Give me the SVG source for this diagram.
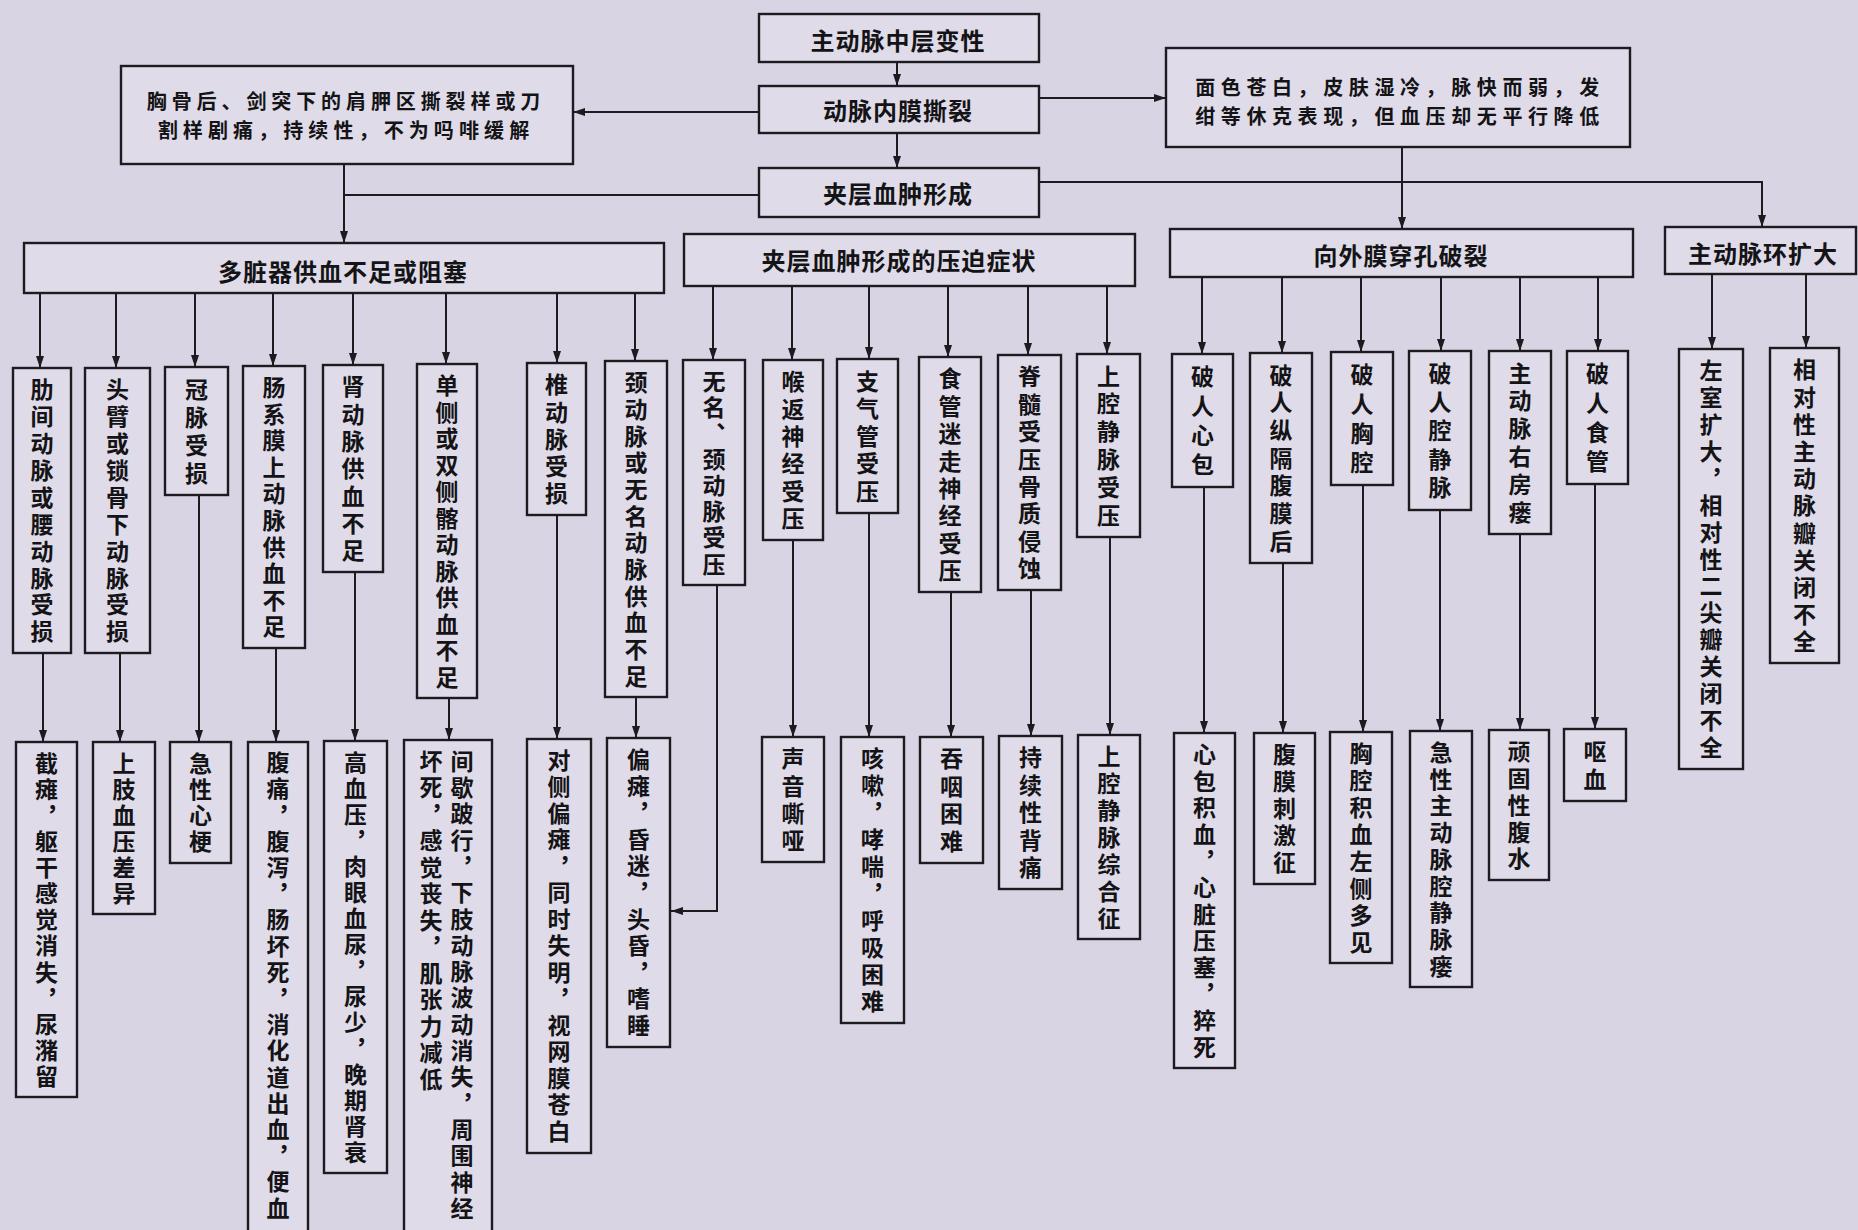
<svg xmlns="http://www.w3.org/2000/svg" width="1858" height="1230" viewBox="0 0 1858 1230">
<style>
.bx{fill:#dfdbe8;stroke:#1c1b20;stroke-width:2.4}
.t{font-family:"Noto Sans CJK SC","Noto Sans CJK TC",sans-serif;font-weight:700;fill:#141316}
.h{font-size:24px;text-anchor:middle;dominant-baseline:central;letter-spacing:1px}
.s{font-size:20px;text-anchor:middle;dominant-baseline:central}
.v{font-size:23px;writing-mode:vertical-rl;text-anchor:start}
.c{fill:none;stroke:#1c1b20;stroke-width:2}
.a{marker-end:url(#ah)}
</style>
<defs>
<marker id="ah" viewBox="0 0 12 10" refX="12" refY="5" markerWidth="12" markerHeight="10" markerUnits="userSpaceOnUse" orient="auto">
<path d="M0,1 L12,5 L0,9 z" fill="#1c1b20"/>
</marker>
</defs>
<rect x="0" y="0" width="1858" height="1230" fill="#d8d4e3"/>

<g id="connectors">
<path class="c a" d="M897,62 V86"/>
<path class="c a" d="M897,133 V168"/>
<path class="c a" d="M759,112 H573"/>
<path class="c a" d="M1039,98 H1166"/>
<path class="c" d="M759,195 H344"/>
<path class="c a" d="M344,164 V243"/>
<path class="c a" d="M1039,182 H1762 V227"/>
<path class="c a" d="M1402,147 V229"/>
<path class="c a" d="M40,293 V368"/>
<path class="c a" d="M116,293 V368"/>
<path class="c a" d="M195,293 V367"/>
<path class="c a" d="M273,293 V366"/>
<path class="c a" d="M353,293 V365"/>
<path class="c a" d="M446,293 V364"/>
<path class="c a" d="M557,293 V363"/>
<path class="c a" d="M635,293 V361"/>
<path class="c a" d="M713,286 V360"/>
<path class="c a" d="M792,286 V360"/>
<path class="c a" d="M869,286 V359"/>
<path class="c a" d="M948,286 V357"/>
<path class="c a" d="M1028,286 V355"/>
<path class="c a" d="M1107,286 V354"/>
<path class="c a" d="M1202,277 V354"/>
<path class="c a" d="M1282,277 V353"/>
<path class="c a" d="M1361,277 V352"/>
<path class="c a" d="M1441,277 V351"/>
<path class="c a" d="M1520,277 V351"/>
<path class="c a" d="M1598,277 V351"/>
<path class="c a" d="M1712,274 V349"/>
<path class="c a" d="M1806,274 V348"/>
<path class="c a" d="M43,653 V742"/>
<path class="c a" d="M120,653 V742"/>
<path class="c a" d="M199,495 V742"/>
<path class="c a" d="M276,648 V742"/>
<path class="c a" d="M355,572 V741"/>
<path class="c a" d="M449,698 V740"/>
<path class="c a" d="M557,515 V739"/>
<path class="c a" d="M636,697 V738"/>
<path class="c a" d="M717,585 V911 H671"/>
<path class="c a" d="M793,540 V737"/>
<path class="c a" d="M869,513 V737"/>
<path class="c a" d="M951,592 V737"/>
<path class="c a" d="M1031,590 V736"/>
<path class="c a" d="M1110,537 V735"/>
<path class="c a" d="M1204,487 V733"/>
<path class="c a" d="M1283,563 V733"/>
<path class="c a" d="M1363,485 V732"/>
<path class="c a" d="M1440,510 V731"/>
<path class="c a" d="M1520,534 V730"/>
<path class="c a" d="M1595,484 V729"/>
</g>

<g id="n_top"><rect class="bx" x="759" y="14" width="280" height="48"/><text class="t h" x="898" y="39">主动脉中层变性</text></g>
<g id="n_tear"><rect class="bx" x="759" y="86" width="280" height="47"/><text class="t h" x="898" y="109">动脉内膜撕裂</text></g>
<g id="n_hema"><rect class="bx" x="759" y="168" width="280" height="49"/><text class="t h" x="898" y="192">夹层血肿形成</text></g>
<g id="n_pain"><rect class="bx" x="121" y="66" width="452" height="98"/><text class="t s" x="346" y="100" style="letter-spacing:4.9px">胸骨后、剑突下的肩胛区撕裂样或刀</text><text class="t s" x="346" y="129" style="letter-spacing:5.1px">割样剧痛，持续性，不为吗啡缓解</text></g>
<g id="n_shock"><rect class="bx" x="1166" y="48" width="464" height="99"/><text class="t s" x="1400" y="86" style="letter-spacing:5.6px">面色苍白，皮肤湿冷，脉快而弱，发</text><text class="t s" x="1400" y="115" style="letter-spacing:5.6px">绀等休克表现，但血压却无平行降低</text></g>

<g id="n_l2a"><rect class="bx" x="24" y="243" width="640" height="50"/><text class="t h" x="343" y="270">多脏器供血不足或阻塞</text></g>
<g id="n_l2b"><rect class="bx" x="684" y="234" width="451" height="52"/><text class="t h" x="899" y="259">夹层血肿形成的压迫症状</text></g>
<g id="n_l2c"><rect class="bx" x="1170" y="229" width="463" height="48"/><text class="t h" x="1401" y="254">向外膜穿孔破裂</text></g>
<g id="n_l2d"><rect class="bx" x="1665" y="227" width="191" height="47"/><text class="t h" x="1763" y="252">主动脉环扩大</text></g>

<g id="n3_1"><rect class="bx" x="13" y="368" width="58" height="285"/><text class="t v" x="42" y="378" style="letter-spacing:3.9px">肋间动脉或腰动脉受损</text></g>
<g id="n3_2"><rect class="bx" x="85" y="368" width="65" height="285"/><text class="t v" x="117.5" y="378" style="letter-spacing:3.9px">头臂或锁骨下动脉受损</text></g>
<g id="n3_3"><rect class="bx" x="165" y="367" width="63" height="128"/><text class="t v" x="196.5" y="377.5" style="letter-spacing:5px">冠脉受损</text></g>
<g id="n3_4"><rect class="bx" x="243" y="366" width="62" height="282"/><text class="t v" x="274" y="375.8" style="letter-spacing:3.6px">肠系膜上动脉供血不足</text></g>
<g id="n3_5"><rect class="bx" x="323" y="365" width="60" height="207"/><text class="t v" x="353" y="375.2" style="letter-spacing:4.3px">肾动脉供血不足</text></g>
<g id="n3_6"><rect class="bx" x="417" y="364" width="60" height="334"/><text class="t v" x="447" y="373.8" style="letter-spacing:3.5px">单侧或双侧髂动脉供血不足</text></g>
<g id="n3_7"><rect class="bx" x="527" y="363" width="59" height="152"/><text class="t v" x="556.5" y="373.1" style="letter-spacing:4.2px">椎动脉受损</text></g>
<g id="n3_8"><rect class="bx" x="605" y="361" width="62" height="336"/><text class="t v" x="636" y="370.9" style="letter-spacing:3.7px">颈动脉或无名动脉供血不足</text></g>
<g id="n3_9"><rect class="bx" x="683" y="360" width="62" height="225"/><text class="t v" x="714" y="369.6" style="letter-spacing:3.1px">无名、颈动脉受压</text></g>
<g id="n3_10"><rect class="bx" x="763" y="360" width="60" height="180"/><text class="t v" x="793" y="370.2" style="letter-spacing:4.3px">喉返神经受压</text></g>
<g id="n3_11"><rect class="bx" x="837" y="359" width="61" height="154"/><text class="t v" x="867.5" y="369.3" style="letter-spacing:4.6px">支气管受压</text></g>
<g id="n3_12"><rect class="bx" x="919" y="357" width="62" height="235"/><text class="t v" x="950" y="367.2" style="letter-spacing:4.4px">食管迷走神经受压</text></g>
<g id="n3_13"><rect class="bx" x="998" y="355" width="63" height="235"/><text class="t v" x="1029.5" y="365.2" style="letter-spacing:4.4px">脊髓受压骨质侵蚀</text></g>
<g id="n3_14"><rect class="bx" x="1077" y="354" width="63" height="183"/><text class="t v" x="1108.5" y="364.4" style="letter-spacing:4.8px">上腔静脉受压</text></g>
<g id="n3_15"><rect class="bx" x="1172" y="354" width="61" height="133"/><text class="t v" x="1202.5" y="365.1" style="letter-spacing:6.2px">破人心包</text></g>
<g id="n3_16"><rect class="bx" x="1250" y="353" width="62" height="210"/><text class="t v" x="1281" y="363.4" style="letter-spacing:4.7px">破人纵隔腹膜后</text></g>
<g id="n3_17"><rect class="bx" x="1331" y="352" width="62" height="133"/><text class="t v" x="1362" y="363.1" style="letter-spacing:6.2px">破人胸腔</text></g>
<g id="n3_18"><rect class="bx" x="1409" y="351" width="62" height="159"/><text class="t v" x="1440" y="361.8" style="letter-spacing:5.6px">破人腔静脉</text></g>
<g id="n3_19"><rect class="bx" x="1489" y="351" width="62" height="183"/><text class="t v" x="1520" y="361.4" style="letter-spacing:4.8px">主动脉右房瘘</text></g>
<g id="n3_20"><rect class="bx" x="1567" y="351" width="61" height="133"/><text class="t v" x="1597.5" y="362.1" style="letter-spacing:6.2px">破人食管</text></g>
<g id="n3_21"><rect class="bx" x="1679" y="349" width="64" height="420"/><text class="t v" x="1711" y="359" style="letter-spacing:3.9px">左室扩大，相对性二尖瓣关闭不全</text></g>
<g id="n3_22"><rect class="bx" x="1770" y="348" width="69" height="315"/><text class="t v" x="1804.5" y="358.1" style="letter-spacing:4.2px">相对性主动脉瓣关闭不全</text></g>

<g id="n4_1"><rect class="bx" x="16" y="742" width="61" height="355"/><text class="t v" x="46.5" y="751.5" style="letter-spacing:3.1px">截瘫，躯干感觉消失，尿潴留</text></g>
<g id="n4_2"><rect class="bx" x="93" y="742" width="62" height="172"/><text class="t v" x="124" y="751.5" style="letter-spacing:3px">上肢血压差异</text></g>
<g id="n4_3"><rect class="bx" x="170" y="742" width="61" height="121"/><text class="t v" x="200.5" y="751.6" style="letter-spacing:3.2px">急性心梗</text></g>
<g id="n4_4"><rect class="bx" x="248" y="742" width="60" height="500"/><text class="t v" x="278" y="751" style="letter-spacing:3.2px">腹痛，腹泻，肠坏死，消化道出血，便血</text></g>
<g id="n4_5"><rect class="bx" x="324" y="741" width="63" height="432"/><text class="t v" x="355.5" y="750.5" style="letter-spacing:3px">高血压，肉眼血尿，尿少，晚期肾衰</text></g>
<g id="n4_6"><rect class="bx" x="404" y="740" width="88" height="502"/><text class="t v" x="462" y="749.5" style="letter-spacing:3.3px">间歇跛行，下肢动脉波动消失，周围神经</text><text class="t v" x="431" y="749.5" style="letter-spacing:3.5px">坏死，感觉丧失，肌张力减低</text></g>
<g id="n4_7"><rect class="bx" x="527" y="739" width="64" height="414"/><text class="t v" x="559" y="748.7" style="letter-spacing:3.5px">对侧偏瘫，同时失明，视网膜苍白</text></g>
<g id="n4_8"><rect class="bx" x="607" y="738" width="63" height="309"/><text class="t v" x="638.5" y="747.8" style="letter-spacing:3.6px">偏瘫，昏迷，头昏，嗜睡</text></g>
<g id="n4_10"><rect class="bx" x="762" y="737" width="62" height="125"/><text class="t v" x="793" y="747.1" style="letter-spacing:4.2px">声音嘶哑</text></g>
<g id="n4_11"><rect class="bx" x="841" y="737" width="63" height="286"/><text class="t v" x="872.5" y="747" style="letter-spacing:4px">咳嗽，哮喘，呼吸困难</text></g>
<g id="n4_12"><rect class="bx" x="920" y="737" width="63" height="126"/><text class="t v" x="951.5" y="747.2" style="letter-spacing:4.5px">吞咽困难</text></g>
<g id="n4_13"><rect class="bx" x="999" y="736" width="63" height="153"/><text class="t v" x="1030.5" y="746.2" style="letter-spacing:4.4px">持续性背痛</text></g>
<g id="n4_14"><rect class="bx" x="1078" y="735" width="62" height="204"/><text class="t v" x="1109" y="745" style="letter-spacing:3.9px">上腔静脉综合征</text></g>
<g id="n4_15"><rect class="bx" x="1174" y="733" width="61" height="335"/><text class="t v" x="1204.5" y="742.8" style="letter-spacing:3.6px">心包积血，心脏压塞，猝死</text></g>
<g id="n4_16"><rect class="bx" x="1254" y="733" width="61" height="151"/><text class="t v" x="1284.5" y="743" style="letter-spacing:4px">腹膜刺激征</text></g>
<g id="n4_17"><rect class="bx" x="1330" y="732" width="62" height="231"/><text class="t v" x="1361" y="742" style="letter-spacing:3.9px">胸腔积血左侧多见</text></g>
<g id="n4_18"><rect class="bx" x="1410" y="731" width="62" height="256"/><text class="t v" x="1441" y="740.8" style="letter-spacing:3.7px">急性主动脉腔静脉瘘</text></g>
<g id="n4_19"><rect class="bx" x="1489" y="730" width="60" height="150"/><text class="t v" x="1519" y="739.9" style="letter-spacing:3.8px">顽固性腹水</text></g>
<g id="n4_20"><rect class="bx" x="1564" y="729" width="62" height="72"/><text class="t v" x="1595" y="739.5" style="letter-spacing:5px">呕血</text></g>
</svg>
